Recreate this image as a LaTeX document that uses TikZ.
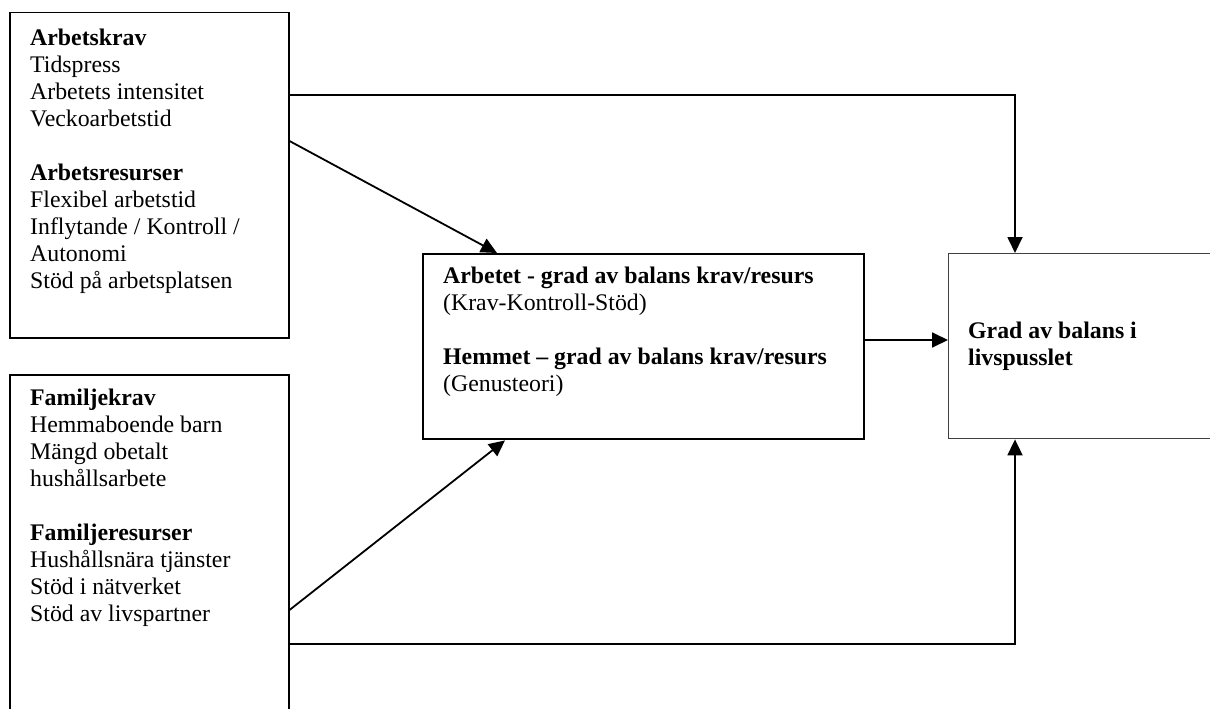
\documentclass[tikz,border=0pt]{standalone}
\usepackage{fontspec}
\setmainfont{Liberation Serif}
\usetikzlibrary{arrows.meta,calc}
\begin{document}
\begin{tikzpicture}[x=1pt,y=-1pt,
  box/.style={draw, rectangle, inner sep=0pt, anchor=north west},
  txt/.style={anchor=north west, inner sep=0pt, align=left, font=\fontsize{23.8}{27}\selectfont},
  arr/.style={line width=1.8pt, -{Triangle[length=16pt,width=15pt]}}]
\clip (0,0) rectangle (1210,709);
\fill[white] (0,0) rectangle (1210,709);
% boxes
\node[box, line width=1.5pt, minimum width=279pt, minimum height=325pt] (boxA) at (9,12) {};
\node[box, line width=1.5pt, minimum width=279pt, minimum height=360pt] (boxB) at (9,374) {};
\node[box, line width=2.4pt, minimum width=441pt, minimum height=185pt] (boxC) at (422,253) {};
\node[box, draw=black!75, line width=1.4pt, minimum width=300pt, minimum height=185pt] (boxD) at (948,253) {};
% texts
\node[txt] (tA) at (30,26) {\strut\textbf{Arbetskrav}\\Tidspress\\Arbetets intensitet\\Veckoarbetstid\\[27pt]\textbf{Arbetsresurser}\\Flexibel arbetstid\\Inflytande / Kontroll /\\Autonomi\\Stöd på arbetsplatsen};
\node[txt] (tB) at (30,386) {\strut\textbf{Familjekrav}\\Hemmaboende barn\\Mängd obetalt\\hushållsarbete\\[27pt]\textbf{Familjeresurser}\\Hushållsnära tjänster\\Stöd i nätverket\\Stöd av livspartner};
\node[txt] (tC) at (443,264) {\strut\textbf{Arbetet - grad av balans krav/resurs}\\(Krav-Kontroll-Stöd)\\[27pt]\textbf{Hemmet – grad av balans krav/resurs}\\(Genusteori)};
\node[txt] (tD) at (968,319) {\strut\textbf{Grad av balans i}\\\textbf{livspusslet}};
% connectors
\draw[arr] ($(boxA.north east)+(0,83)$) -| ($(boxD.north west)+(67,0)$);
\draw[arr] ($(boxA.north east)+(0,129)$) -- ($(boxC.north west)+(75,0)$);
\draw[arr] ($(boxB.north east)+(0,236)$) -- ($(boxC.south west)+(83,0)$);
\draw[arr] ($(boxB.north east)+(0,270)$) -| ($(boxD.south west)+(67,0)$);
\draw[arr] ($(boxC.north east)+(0,87)$) -- ($(boxD.north west)+(0,87)$);
\end{tikzpicture}
\end{document}
